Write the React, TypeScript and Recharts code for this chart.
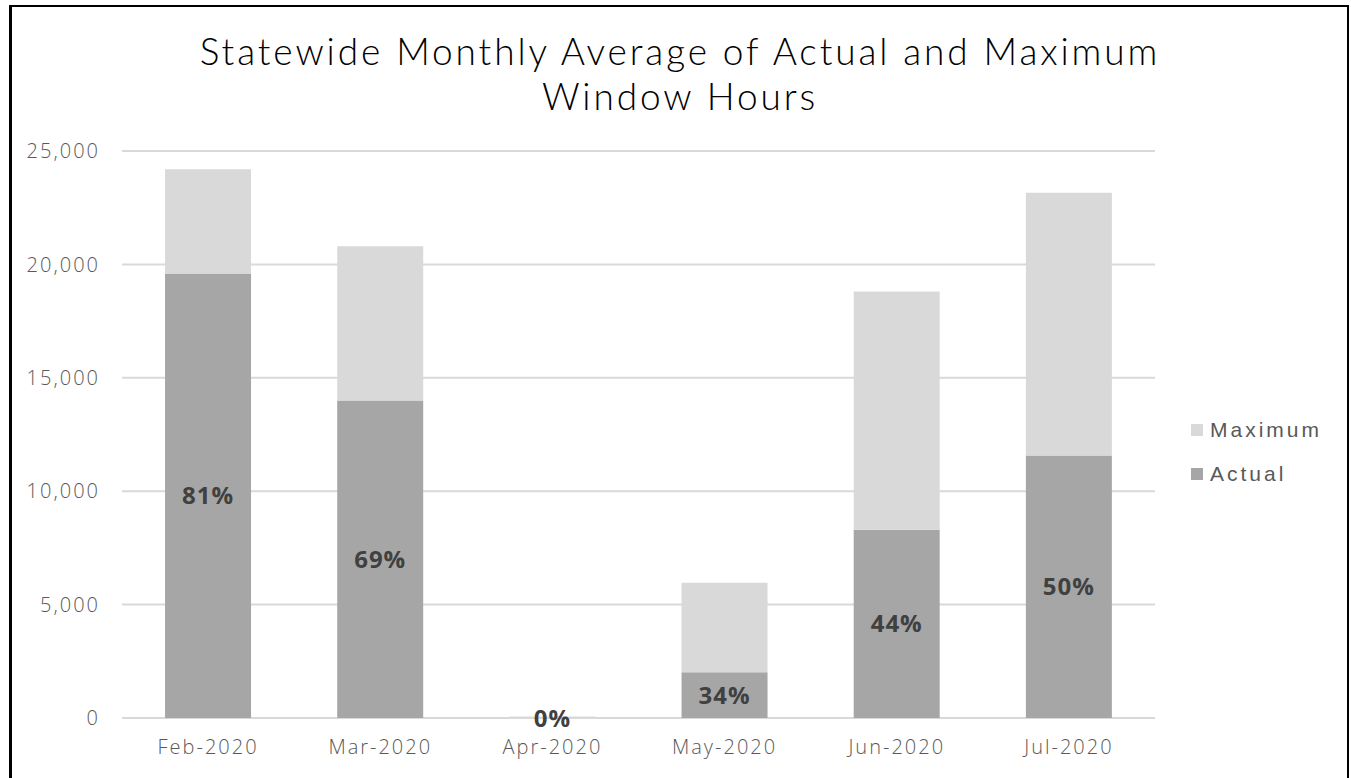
import { BarChart, Bar, XAxis, YAxis, CartesianGrid, LabelList } from 'recharts';

// monthly averages
const months = ['Feb-2020', 'Mar-2020', 'Apr-2020', 'May-2020', 'Jun-2020', 'Jul-2020'];
const actualHours = [19600, 14000, 0.2, 2020, 8300, 11570];
const maximumHours = [24200, 20800, 70, 5960, 18800, 23160];
const pctLabels = ['81%', '69%', '0%', '34%', '44%', '50%'];
const yTicks = [0, 5000, 10000, 15000, 20000, 25000];

const ACTUAL = '#a6a6a6';
const MAXIMUM = '#d9d9d9';
const TEXT = '#595959';

// stacked: actual at bottom, the rest up to maximum on top
const data = months.map((m, i) => ({
  month: m,
  actual: actualHours[i],
  rest: maximumHours[i] - actualHours[i],
  pct: pctLabels[i],
}));

const tickFont = { fontFamily: '"Open Sans", sans-serif', fontSize: 20, fontWeight: 300, fill: TEXT, letterSpacing: 2 };

const titleLine = {
  position: 'absolute' as const,
  left: 9,
  width: 1342,
  height: 45,
  textAlign: 'center' as const,
  fontFamily: 'Lato, sans-serif',
  fontWeight: 300,
  fontSize: 37,
  lineHeight: '45px',
  letterSpacing: 2.9,
  color: '#000',
  whiteSpace: 'nowrap' as const,
};

const App = () => {
  return (
    <div style={{ position: 'absolute', left: 0, top: 0, width: 1351, height: 778, background: '#fff', overflow: 'hidden' }}>
      {/* frame */}
      <div style={{ position: 'absolute', left: 9, top: 5, width: 1340, height: 800, borderLeft: '3px solid #000', borderTop: '2px solid #000', borderRight: '2px solid #000', boxSizing: 'border-box' }} />

      <div style={{ ...titleLine, top: 28 }}>Statewide Monthly Average of Actual and Maximum</div>
      <div style={{ ...titleLine, top: 73 }}>Window Hours</div>

      <div style={{ position: 'absolute', left: 0, top: 0 }}>
        <BarChart
          width={1351}
          height={778}
          data={data}
          margin={{ top: 151, right: 196, bottom: 20, left: 12 }}
          barCategoryGap="25%"
        >
          <CartesianGrid vertical={false} stroke={MAXIMUM} strokeWidth={2} />
          <XAxis
            dataKey="month"
            axisLine={false}
            tickLine={false}
            height={40}
            tickMargin={16}
            tick={tickFont}
          />
          <YAxis
            type="number"
            domain={[0, 25000]}
            ticks={yTicks}
            width={110}
            axisLine={false}
            tickLine={false}
            tickMargin={16}
            tick={tickFont}
            tickFormatter={(v: number) => v.toLocaleString('en-US')}
          />
          <Bar dataKey="actual" stackId="a" fill={ACTUAL} isAnimationActive={false}>
            <LabelList
              dataKey="pct"
              position="center"
              fill="#404040"
              style={{ fontFamily: '"Open Sans", sans-serif', fontWeight: 700, fontSize: 24, letterSpacing: 1 }}
            />
          </Bar>
          <Bar dataKey="rest" stackId="a" fill={MAXIMUM} isAnimationActive={false} />
        </BarChart>
      </div>

      {/* legend */}
      <div style={{ position: 'absolute', left: 1191, top: 418, fontFamily: '"Liberation Sans", Arial, sans-serif', fontSize: 21, color: TEXT, letterSpacing: 3 }}>
        {[
          { name: 'Maximum', color: MAXIMUM },
          { name: 'Actual', color: ACTUAL },
        ].map((s) => (
          <div key={s.name} style={{ display: 'flex', alignItems: 'center', height: 24, marginBottom: 20 }}>
            <span style={{ width: 12, height: 12, background: s.color, marginRight: 7, display: 'inline-block' }} />
            <span>{s.name}</span>
          </div>
        ))}
      </div>
    </div>
  );
};

export default App;
